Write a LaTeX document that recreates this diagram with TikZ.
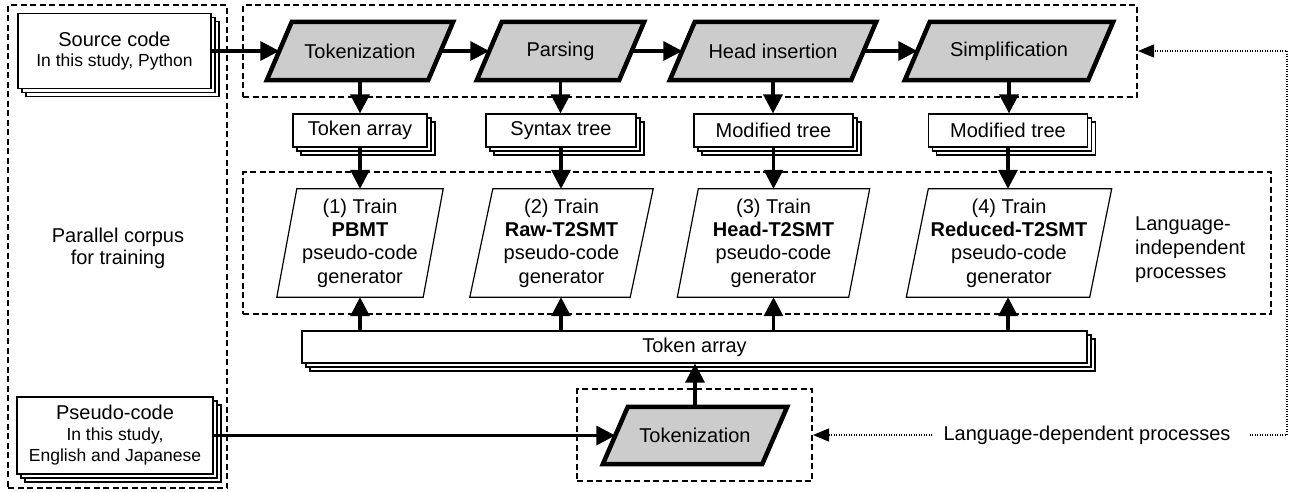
\documentclass[tikz,border=0pt]{standalone}
\usepackage{fontspec}
\setmainfont{Liberation Sans}
\usetikzlibrary{arrows.meta,shadows,backgrounds,calc}
\newcommand{\subf}{\fontsize{17.5}{20.5}\selectfont}
\newcommand{\paral}[3]{%
  \draw[#1] ([xshift=-#3/2]#2.south west) -- ([xshift=#3/2]#2.north west) -- ([xshift=#3/2]#2.north east) -- ([xshift=-#3/2]#2.south east) -- cycle;}
\definecolor{procgray}{HTML}{CCCCCC}
\tikzset{
  every node/.style={font=\fontsize{20}{20.5}\selectfont},
  doc/.style={draw, line width=1.2pt, fill=white, inner sep=0pt, align=center,
    copy shadow={shadow xshift=8pt, shadow yshift=-8pt},
    copy shadow={shadow xshift=4pt, shadow yshift=-4pt}},
  grp/.style={draw, line width=2pt, dash pattern=on 6pt off 3.5pt, inner sep=0pt},
  procnode/.style={inner sep=0pt, minimum height=58pt, align=center},
  trainnode/.style={inner sep=0pt, minimum height=108pt, align=center, font=\fontsize{20}{23.3}\selectfont},
  procline/.style={line width=4.5pt, fill=procgray, line join=miter},
  trainline/.style={line width=1.2pt, fill=white},
  flow/.style={line width=3.4pt, -{Triangle[length=19pt,width=19pt]}},
  fb/.style={line width=1.2pt, dash pattern=on 1.2pt off 1.3pt, -{Triangle[length=16pt,width=13pt]}},
}
\begin{document}
\begin{tikzpicture}[x=1pt,y=-1pt]
\useasboundingbox (0,0) rectangle (1294,491);

% group frames
\node[grp, minimum width=219pt, minimum height=483pt] (gleft) at (117.5,246.5) {};
\node[grp, minimum width=894pt, minimum height=92pt] (gtop) at (690,51) {};
\node[grp, minimum width=1028pt, minimum height=142pt] (gmid) at (757,243) {};
\node[grp, minimum width=235pt, minimum height=92pt] (gbot) at (694.5,435) {};

% documents
\node[doc, minimum width=193pt, minimum height=75pt] (src) at (114.5,51) {Source code\\{\subf In this study, Python}};
\node[doc, minimum width=196pt, minimum height=77pt, font=\fontsize{20}{21}\selectfont] (pse) at (115,435.5) {Pseudo-code\\{\subf In this study,}\\{\subf English and Japanese}};
\node[font=\fontsize{20}{22}\selectfont, align=center] (corpus) at (118,248) {Parallel corpus\\for training};

% processes
\node[procnode, minimum width=161pt] (tok) at (360,51) {Tokenization};
\node[procnode, minimum width=142pt] (par) at (560.5,51) {Parsing};
\node[procnode, minimum width=181pt] (hea) at (773,51) {Head insertion};
\node[procnode, minimum width=183pt] (sim) at (1009,51) {Simplification};
\node[procnode, minimum width=159pt, minimum height=57pt] (tok2) at (695,435.5) {Tokenization};

% intermediate results
\node[doc, minimum width=134pt, minimum height=33pt] (ta) at (360,130.5) {Token array};
\node[doc, minimum width=150pt, minimum height=33pt] (st) at (561,130.5) {Syntax tree};
\node[doc, minimum width=159pt, minimum height=33pt] (mt1) at (773.5,130.5) {Modified tree};
\node[doc, minimum width=159pt, minimum height=33pt] (mt2) at (1008,130.5) {Modified tree};

% training
\node[trainnode, minimum width=146pt] (t1) at (360,243) {(1) Train\\\textbf{PBMT}\\pseudo-code\\generator};
\node[trainnode, minimum width=160pt] (t2) at (561.5,243) {(2) Train\\\textbf{Raw-T2SMT}\\pseudo-code\\generator};
\node[trainnode, minimum width=171pt] (t3) at (773.5,243) {(3) Train\\\textbf{Head-T2SMT}\\pseudo-code\\generator};
\node[trainnode, minimum width=183pt] (t4) at (1009,243) {(4) Train\\\textbf{Reduced-T2SMT}\\pseudo-code\\generator};
\node[anchor=west, align=left, inner sep=0pt, font=\fontsize{20}{24}\selectfont] (lip) at (1135,250) {Language-\\independent\\processes};

% long token array
\node[doc, minimum width=785pt, minimum height=32pt] (tarr) at (694.5,347) {Token array};

% language-dependent label
\node[inner xsep=11pt, inner ysep=0pt] (ldp) at (1087,435) {Language-dependent processes};
\coordinate (fbc) at (1287,51);

% shapes of process nodes
\begin{scope}[on background layer]
  \paral{procline}{tok}{25}
  \paral{procline}{par}{25}
  \paral{procline}{hea}{25}
  \paral{procline}{sim}{25}
  \paral{procline}{tok2}{25}
  \paral{trainline}{t1}{20}
  \paral{trainline}{t2}{23}
  \paral{trainline}{t3}{21}
  \paral{trainline}{t4}{22}
\end{scope}

% connectors
\draw[flow] (src.east) -- (tok.west);
\draw[flow] (tok.east) -- (par.west);
\draw[flow] (par.east) -- (hea.west);
\draw[flow] (hea.east) -- (sim.west);
\draw[flow] (tok.south) -- (ta.north);
\draw[flow] (par.south) -- (par.south |- st.north);
\draw[flow] (hea.south) -- (hea.south |- mt1.north);
\draw[flow] (sim.south) -- (sim.south |- mt2.north);
\draw[flow] (ta.south) -- (ta.south |- t1.north);
\draw[flow] (st.south) -- (st.south |- t2.north);
\draw[flow] (mt1.south) -- (mt1.south |- t3.north);
\draw[flow] (mt2.south) -- (mt2.south |- t4.north);
\draw[flow] (t1.south |- tarr.north) -- (t1.south);
\draw[flow] (st.south |- tarr.north) -- (st.south |- t2.south);
\draw[flow] (mt1.south |- tarr.north) -- (mt1.south |- t3.south);
\draw[flow] (mt2.south |- tarr.north) -- (mt2.south |- t4.south);
\draw[flow] (pse.east) -- (tok2.west);
\draw[flow] (tok2.north) -- (tok2.north |- tarr.south);
\draw[fb] (ldp.west) -- (gbot.east);
\draw[fb, shorten <=8pt] (ldp.east) -| (fbc) -- (gtop.east);
\end{tikzpicture}
\end{document}
